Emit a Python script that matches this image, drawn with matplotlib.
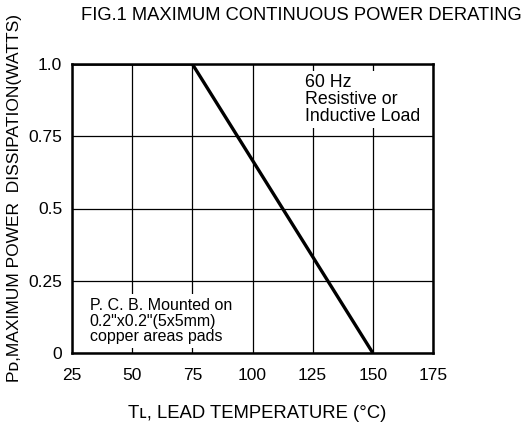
import matplotlib
matplotlib.use("Agg")
import matplotlib.pyplot as plt

plt.rcParams['font.family'] = ['Liberation Sans', 'DejaVu Sans']

# Data
temp = [25, 75, 150]
power = [1.0, 1.0, 0.0]
xticks = [25, 50, 75, 100, 125, 150, 175]
yticks = [0, 0.25, 0.5, 0.75, 1.0]
yticklabels = ["0", "0.25", "0.5", "0.75", "1.0"]

fig = plt.figure(figsize=(5.28, 4.30), dpi=100)
ax = fig.add_axes([72/528, 1-353/430, (433-72)/528, (353-64)/430])

ax.plot(temp, power, color='black', lw=2.4, solid_capstyle='butt', zorder=4)
ax.set_xlim(25, 175)
ax.set_ylim(0, 1.0)
ax.set_xticks(xticks)
ax.set_xticklabels([str(t) for t in xticks])
ax.set_yticks(yticks)
ax.set_yticklabels(yticklabels)
ax.grid(True, color='black', lw=0.9)
ax.tick_params(length=0, labelsize=12.5)
ax.tick_params(axis='x', pad=11)
ax.tick_params(axis='y', pad=7)
for s in ax.spines.values():
    s.set_linewidth(1.8)
    s.set_zorder(5)

ax.text(121.8, 0.965, "60 Hz\nResistive or\nInductive Load", fontsize=12.8,
        va='top', ha='left', linespacing=1.0, zorder=3,
        bbox=dict(facecolor='white', edgecolor='none', pad=2))
ax.text(32.3, 0.19, "P. C. B. Mounted on\n0.2\"x0.2\"(5x5mm)\ncopper areas pads", fontsize=11.5,
        va='top', ha='left', linespacing=1.05, zorder=3,
        bbox=dict(facecolor='white', edgecolor='none', pad=3))

fig.text(301/528, 1-16/430, "FIG.1 MAXIMUM CONTINUOUS POWER DERATING", fontsize=13.2,
         ha='center', va='center')
fig.text(257/528, 1-413/430, "T\u029f, LEAD TEMPERATURE (°C)", fontsize=13.3,
         ha='center', va='center')
fig.text(15/528, 1-198/430, "P\u1d05,MAXIMUM POWER  DISSIPATION(WATTS)", fontsize=12.5,
         ha='center', va='center', rotation=90)

fig.savefig("out.png", dpi=100)
